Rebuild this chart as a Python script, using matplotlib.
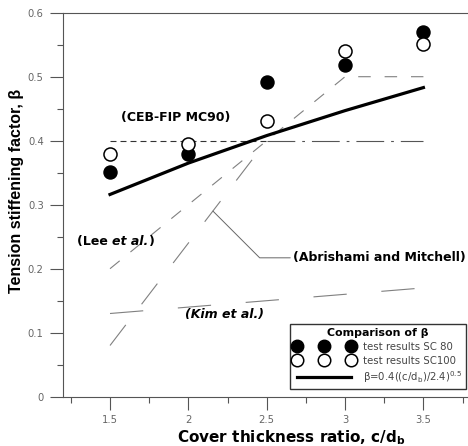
import matplotlib
matplotlib.use("Agg")
import matplotlib.pyplot as plt

# ============================
# DATOS
# ============================
cover_ratio = [1.5, 2.0, 2.5, 3.0, 3.5]
beta_sc80 = [0.351, 0.380, 0.491, 0.518, 0.570]
beta_sc100 = [0.380, 0.395, 0.431, 0.540, 0.551]
beta_fit = [0.316, 0.365, 0.408, 0.447, 0.483]

ceb_x = [1.5, 2.5]
ceb_y = [0.40, 0.40]

lee_x = [1.5, 3.0, 3.5]
lee_y = [0.20, 0.50, 0.50]

abr_x = [1.5, 2.5, 3.5]
abr_y = [0.08, 0.40, 0.40]

kim_x = [1.5, 3.5]
kim_y = [0.13, 0.17]

x_ticks = [1.5, 2.0, 2.5, 3.0, 3.5]
x_ticklabels = ["1.5", "2", "2.5", "3", "3.5"]
y_ticks = [0, 0.1, 0.2, 0.3, 0.4, 0.5, 0.6]
y_ticklabels = ["0", "0.1", "0.2", "0.3", "0.4", "0.5", "0.6"]

# ============================
# ESTILO
# ============================
plt.rcParams["font.family"] = ["DejaVu Sans"]
plt.rcParams["mathtext.fontset"] = "dejavusans"
plt.rcParams["lines.scale_dashes"] = False

fig = plt.figure(figsize=(4.68, 4.46), dpi=100)
ax = fig.add_axes([63 / 468, 1 - 396.7 / 446, 1 - 63 / 468, (396.7 - 12.7) / 446])

gray = "#666666"
spine_col = "#555555"
ann_size = 9

# lineas de otros modelos
ax.plot(ceb_x, ceb_y, color="#333333", lw=0.8, dashes=(4.3, 2.9))
ax.plot(lee_x, lee_y, color="#808080", lw=0.8, dashes=(9, 10))
ax.plot(abr_x[:2], abr_y[:2], color="#808080", lw=0.8, dashes=(18.7, 18.7))
ax.plot(abr_x[1:], abr_y[1:], color="#555555", lw=0.8, dashes=(20, 5, 2, 5))
ax.plot(kim_x, kim_y, color="#808080", lw=0.8, dashes=(24, 25))

# ajuste y ensayos
ax.plot(cover_ratio, beta_fit, color="black", lw=2.3, zorder=4)
ax.plot(cover_ratio, beta_sc80, "o", color="black", ms=9.4, zorder=5, ls="none")
ax.plot(cover_ratio, beta_sc100, "o", mfc="white", mec="black", mew=1.1, ms=9.4,
        zorder=5, ls="none")

# leyenda (handles solo para la leyenda)
h80, = ax.plot([], [], "o", color="black", ms=9.0, ls="none")
h100, = ax.plot([], [], "o", mfc="white", mec="black", mew=1.1, ms=9.0, ls="none")
hfit, = ax.plot([], [], color="black", lw=2.3)
leg = fig.legend([h80, h100, hfit],
                 ["test results SC 80", "test results SC100",
                  r"β=0.4((c/d$_\mathrm{b}$)/2.4)$^{0.5}$"],
                 loc="lower right", bbox_to_anchor=(466 / 468, 1 - 389 / 446),
                 borderaxespad=0, numpoints=3, handlelength=5.9, handletextpad=0.9,
                 labelspacing=0.35, fontsize=7.3, frameon=True, fancybox=False,
                 edgecolor="black", borderpad=0.4, title="Comparison of β",
                 title_fontproperties={"weight": "bold", "size": 7.9})
leg.get_frame().set_linewidth(1.0)
for t in leg.get_texts():
    t.set_color("#444444")

# etiquetas de modelos
ax.text(1.918, 0.437, "(CEB-FIP MC90)", fontsize=ann_size, fontweight="bold",
        ha="center", va="center")
t1 = ax.text(1.289, 0.243, "(Lee ", fontsize=ann_size, fontweight="bold", va="center")
t2 = ax.annotate("et al.", xy=(1, 0), xycoords=t1, va="bottom", fontsize=ann_size,
                 fontweight="bold", fontstyle="italic")
ax.annotate(")", xy=(1, 0), xycoords=t2, va="bottom", fontsize=ann_size,
            fontweight="bold")
ax.text(1.979, 0.129, "(Kim et al.)", fontsize=ann_size, fontweight="bold",
        fontstyle="italic", va="center")
ax.annotate("(Abrishami and Mitchell)", xy=(2.157, 0.29), xytext=(2.668, 0.217),
            fontsize=ann_size, fontweight="bold", va="center",
            arrowprops=dict(arrowstyle="-", color="#666666", lw=0.7,
                            connectionstyle="angle,angleA=0,angleB=-45,rad=0",
                            shrinkA=0, shrinkB=0))

# ejes
ax.set_xlim(1.2, 1.2 + 405 / 156.7)
ax.set_ylim(0, 0.6)
ax.set_xticks(x_ticks)
ax.set_xticklabels(x_ticklabels)
ax.set_yticks(y_ticks)
ax.set_yticklabels(y_ticklabels)
ax.set_xticks([1.25, 1.75, 2.25, 2.75, 3.25, 3.75], minor=True)
ax.set_yticks([0.05, 0.15, 0.25, 0.35, 0.45, 0.55], minor=True)
ax.tick_params(which="major", direction="out", length=9.4, width=0.8, color=spine_col,
               labelcolor=gray, labelsize=7.2, pad=4.5)
ax.tick_params(axis="x", which="major", pad=3.5)
ax.tick_params(which="minor", direction="out", length=4.5, width=0.8, color=spine_col)
for side in ["left", "bottom", "top"]:
    ax.spines[side].set_color(spine_col)
    ax.spines[side].set_linewidth(0.8)
ax.spines["right"].set_visible(False)

fig.text(291 / 468, 1 - 442 / 446, r"Cover thickness ratio, c/d$_\mathbf{b}$",
         fontsize=11, fontweight="bold", ha="center", va="baseline")
fig.text(16.7 / 468, 1 - 190.5 / 446, "Tension stiffening factor, β", fontsize=11.5,
         fontweight="bold", rotation=90, ha="center", va="center",
         family=["Liberation Sans", "DejaVu Sans"])

fig.savefig("out.png", dpi=100)
